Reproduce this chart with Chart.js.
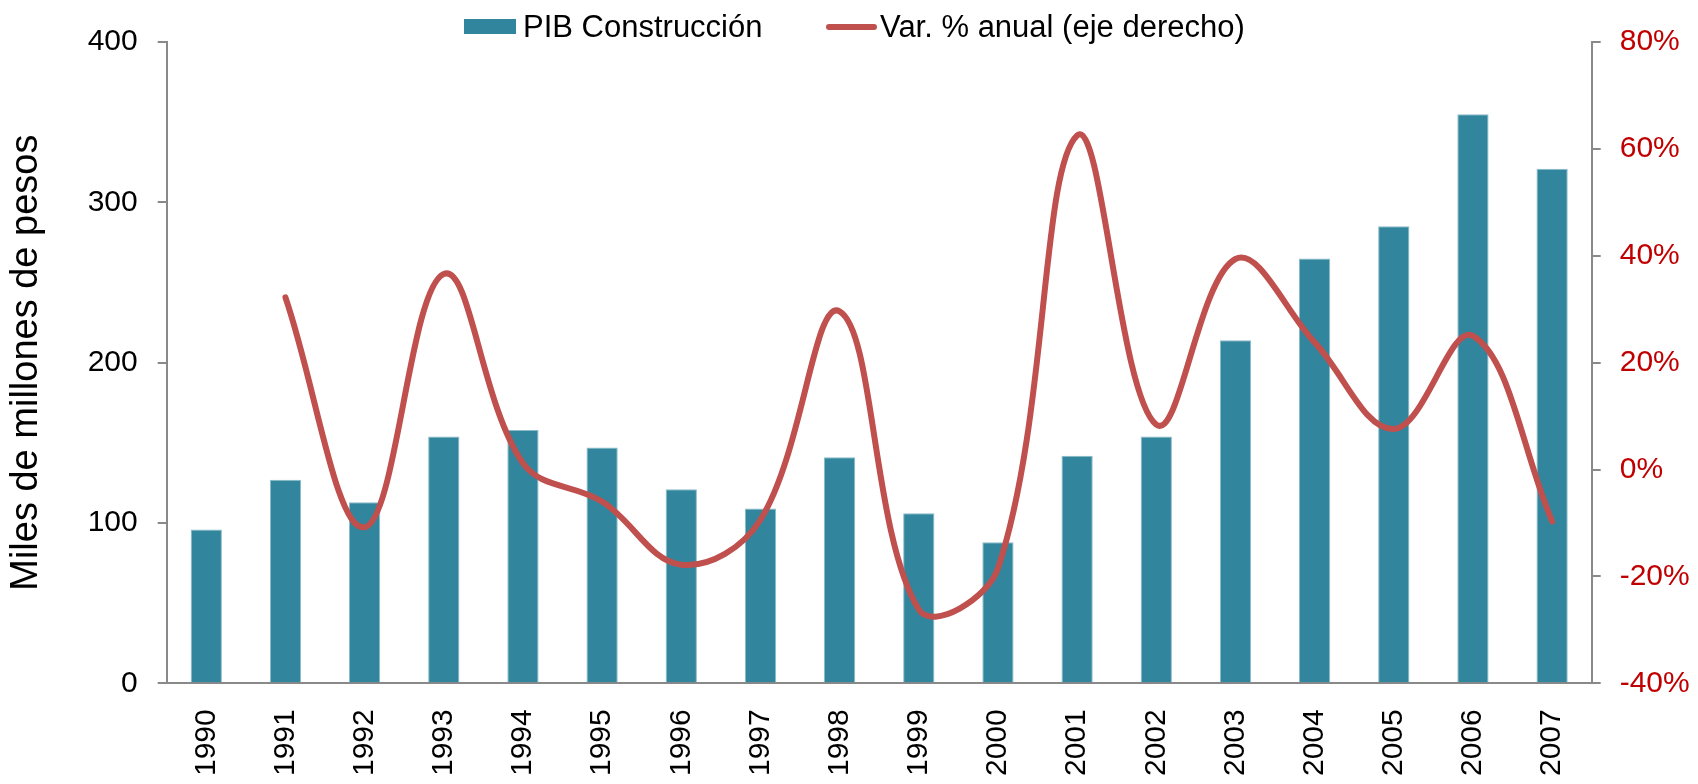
<!DOCTYPE html>
<html>
<head>
<meta charset="utf-8">
<script src="https://cdn.jsdelivr.net/npm/chart.js@4.4.1/dist/chart.umd.min.js"></script>
<style>
  html, body { margin: 0; padding: 0; background: #fff; }
  #wrap { width: 1698px; height: 784px; }
</style>
</head>
<body>
<div id="wrap"><canvas id="chart"></canvas></div>
<script>
// Data
const years = ['1990', '1991', '1992', '1993', '1994', '1995', '1996', '1997', '1998',
  '1999', '2000', '2001', '2002', '2003', '2004', '2005', '2006', '2007'];
const pibConstruccion = [96, 127, 113, 154, 158, 147, 121, 109, 141, 106, 88, 142, 154, 214, 265, 285, 355, 321];
const varAnual = [null, 32.2, -10.8, 36.6, 1.2, -6, -17.8, -9.4, 29.6, -26.2, -18.5, 62.5, 8.4, 39.4, 23.8, 7.6, 25, -9.7];
const leftTicks = [0, 100, 200, 300, 400];
const rightTicks = [-40, -20, 0, 20, 40, 60, 80];

const FONT = "'Liberation Sans', Arial, sans-serif";
const BAR_COLOR = '#31859C';
const LINE_COLOR = '#C0504D';
const AXIS_COLOR = '#898989';

Chart.defaults.font.family = FONT;
Chart.defaults.color = '#000';

// ─── Legend drawn over the top margin (Excel style) ───────────────────────────
const topLegend = {
  id: 'topLegend',
  afterDraw(chart) {
    const ctx = chart.ctx;
    const [bars, line] = chart.data.datasets;
    const y = 28;
    ctx.save();
    ctx.font = `31px ${FONT}`;
    ctx.textBaseline = 'middle';

    ctx.fillStyle = bars.backgroundColor;
    ctx.fillRect(464, 19, 52, 15);
    ctx.fillStyle = '#000';
    ctx.fillText(bars.label, 523, y);

    ctx.strokeStyle = line.borderColor;
    ctx.lineWidth = 6;
    ctx.lineCap = 'round';
    ctx.beginPath();
    ctx.moveTo(829, 27);
    ctx.lineTo(874, 27);
    ctx.stroke();
    ctx.fillText(line.label, 880, y);
    ctx.restore();
  }
};

new Chart(document.getElementById('chart'), {
  data: {
    labels: years,
    datasets: [
      {
        type: 'bar',
        label: 'PIB Construcción',
        data: pibConstruccion,
        backgroundColor: BAR_COLOR,
        borderColor: '#8CBBC9',
        borderWidth: 1,
        barPercentage: 0.395,
        categoryPercentage: 1.0,
        yAxisID: 'y',
        order: 2,
      },
      {
        type: 'line',
        label: 'Var. % anual (eje derecho)',
        data: varAnual,
        borderColor: LINE_COLOR,
        borderWidth: 6,
        tension: 0.38,
        pointRadius: 0,
        borderCapStyle: 'round',
        borderJoinStyle: 'round',
        yAxisID: 'y1',
        order: 1,
      },
    ],
  },
  options: {
    responsive: true,
    maintainAspectRatio: false,
    animation: false,
    layout: { padding: { top: 42, left: 0, right: 0, bottom: 0 } },
    plugins: { legend: { display: false }, tooltip: { enabled: false } },
    scales: {
      x: {
        grid: { display: false, drawTicks: false },
        border: { display: true, color: AXIS_COLOR, width: 2 },
        ticks: { font: { size: 30 }, color: '#000', minRotation: 90, maxRotation: 90, padding: 26, autoSkip: false },
        afterFit: s => { s.height = 100.7; },
      },
      y: {
        position: 'left',
        min: leftTicks[0],
        max: leftTicks[leftTicks.length - 1],
        ticks: { stepSize: leftTicks[1] - leftTicks[0], font: { size: 30 }, color: '#000', padding: 20 },
        grid: { drawOnChartArea: false, tickLength: 9, color: AXIS_COLOR, lineWidth: 2 },
        border: { color: AXIS_COLOR, width: 2 },
        title: { display: true, text: 'Miles de millones de pesos', font: { size: 38 }, color: '#000', padding: { top: 4, bottom: 0 } },
        afterFit: s => { s.width = 166.7; },
      },
      y1: {
        position: 'right',
        min: rightTicks[0],
        max: rightTicks[rightTicks.length - 1],
        ticks: { stepSize: rightTicks[1] - rightTicks[0], font: { size: 30 }, color: '#C00000', padding: 19, callback: v => v + '%' },
        grid: { drawOnChartArea: false, tickLength: 9, color: AXIS_COLOR, lineWidth: 2 },
        border: { color: AXIS_COLOR, width: 2 },
        afterFit: s => { s.width = 106.3; },
      },
    },
  },
  plugins: [topLegend],
});
</script>
</body>
</html>
